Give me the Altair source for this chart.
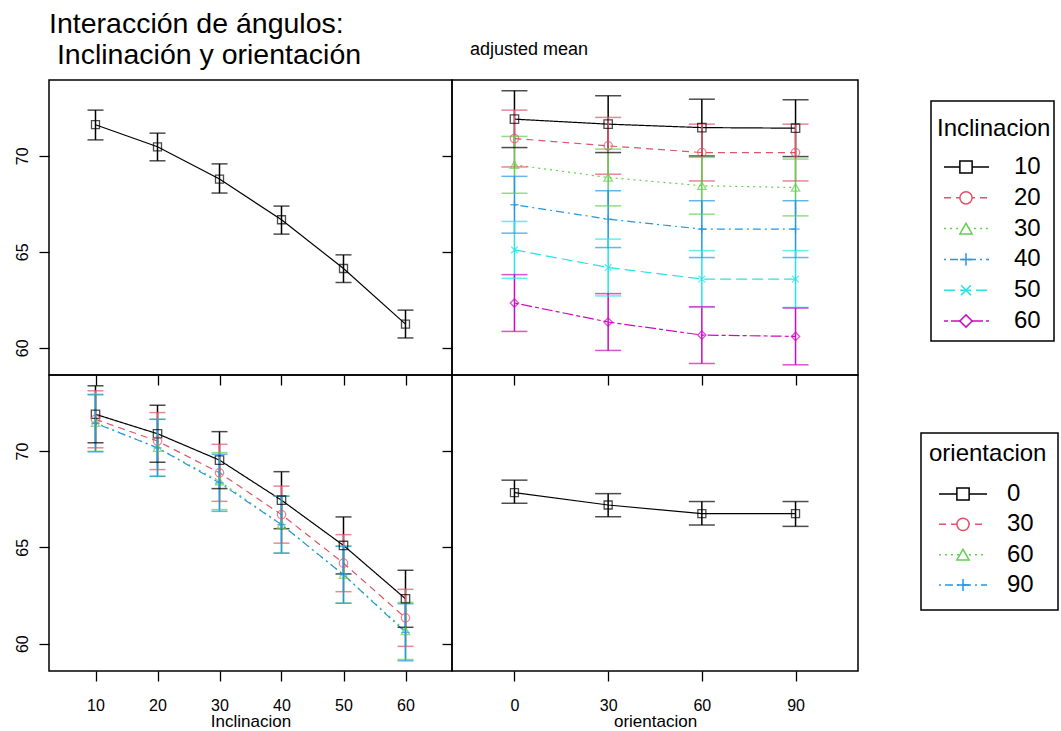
import altair as alt
import pandas as pd

FONT = "Liberation Sans"

# ---------------- data ----------------
incl_levels = [10, 20, 30, 40, 50, 60]
incl_labels = ["10", "20", "30", "40", "50", "60"]
orient_levels = [0, 30, 60, 90]
orient_labels = ["0", "30", "60", "90"]

# main effect of Inclinacion (mean and interval)
incl_mean = [71.62, 70.47, 68.79, 66.67, 64.13, 61.23]
incl_lo = [70.83, 69.74, 68.06, 65.92, 63.40, 60.51]
incl_hi = [72.38, 71.18, 69.58, 67.38, 64.84, 61.96]

# main effect of orientacion
orient_mean = [67.84, 67.20, 66.75, 66.75]
orient_lo = [67.29, 66.59, 66.16, 66.09]
orient_hi = [68.49, 67.79, 67.38, 67.38]

# cell means: one row per Inclinacion, columns = orientacion 0, 30, 60, 90
cell_10 = [71.91, 71.65, 71.47, 71.44]
cell_20 = [70.90, 70.52, 70.17, 70.17]
cell_30 = [69.53, 68.87, 68.44, 68.35]
cell_40 = [67.45, 66.70, 66.18, 66.18]
cell_50 = [65.10, 64.18, 63.58, 63.58]
cell_60 = [62.33, 61.34, 60.66, 60.59]
cell_rows = [cell_10, cell_20, cell_30, cell_40, cell_50, cell_60]
cell_ci = [1.48, 1.48, 1.48, 1.48, 1.48, 1.48]  # half-width of the cell intervals

y_ticks = [60, 65, 70]

# ---------------- styles ----------------
palette = ["#000000", "#DF536B", "#61D04F", "#2297E6", "#28E2E5", "#CD0BBC"]
dashes = [[1, 0], [7, 5], [2, 4], [2, 4, 8, 4], [11, 5], [4, 3, 11, 3]]
shapes = ["square", "circle", "triangle-up",
          "M-1,0L1,0M0,-1L0,1",
          "M-0.8,-0.8L0.8,0.8M-0.8,0.8L0.8,-0.8",
          "diamond"]

Y_DOMAIN = [58.58, 73.95]
XI_DOMAIN = [2.5, 67.5]
XO_DOMAIN = [-20, 110]

W_L, W_R, H_T, H_B, W_LEG = 403, 406, 295, 296, 202

incl_color = alt.Scale(domain=incl_labels, range=palette)
incl_dash = alt.Scale(domain=incl_labels, range=dashes)
incl_shape = alt.Scale(domain=incl_labels, range=shapes)
orient_color = alt.Scale(domain=orient_labels, range=palette[:4])
orient_dash = alt.Scale(domain=orient_labels, range=dashes[:4])
orient_shape = alt.Scale(domain=orient_labels, range=shapes[:4])

# ---------------- tables ----------------
df_incl = pd.DataFrame({"incl": incl_levels, "mean": incl_mean, "lo": incl_lo, "hi": incl_hi})
df_orient = pd.DataFrame({"orient": orient_levels, "mean": orient_mean, "lo": orient_lo, "hi": orient_hi})

rows = []
for i, lev in enumerate(incl_levels):
    for j, o in enumerate(orient_levels):
        m = cell_rows[i][j]
        rows.append({"incl": lev, "orient": o,
                     "Inclinacion": incl_labels[i], "orientacion": orient_labels[j],
                     "mean": m, "lo": m - cell_ci[i], "hi": m + cell_ci[i]})
df_cell = pd.DataFrame(rows)


def yscale():
    return alt.Scale(domain=Y_DOMAIN, nice=False, zero=False)


def y_axis(labels):
    if labels:
        return alt.Axis(values=y_ticks, title=None, labelAngle=270, labelAlign="center",
                        labelBaseline="alphabetic", labelPadding=12)
    return alt.Axis(values=y_ticks, title=None, labels=False)


def x_axis(values, labels, title):
    if labels:
        return alt.Axis(values=values, title=title, labelPadding=16, labelAngle=0,
                        titlePadding=0, titleFontSize=17, titleFontWeight="normal")
    return alt.Axis(values=values, title=None, labels=False)


# ---------------- main-effect panels ----------------
def main_panel(df, xfield, xdom, xvals, xlabels, xtitle, ylabels, capsize, width, height, title=None):
    xs = alt.Scale(domain=xdom, nice=False, zero=False)
    base = alt.Chart(df)
    X = alt.X(f"{xfield}:Q", scale=xs, axis=x_axis(xvals, xlabels, xtitle))
    Y = alt.Y("mean:Q", scale=yscale(), axis=y_axis(ylabels))
    line = base.mark_line(color="black", strokeWidth=1.2).encode(x=X, y=Y)
    bars = base.mark_rule(color="black", strokeWidth=1.5).encode(
        x=alt.X(f"{xfield}:Q", scale=xs), y=alt.Y("lo:Q", scale=yscale()), y2="hi:Q")
    cap_lo = base.mark_tick(color="black", orient="horizontal", size=capsize, thickness=1.5).encode(
        x=alt.X(f"{xfield}:Q", scale=xs), y=alt.Y("lo:Q", scale=yscale()))
    cap_hi = base.mark_tick(color="black", orient="horizontal", size=capsize, thickness=1.5).encode(
        x=alt.X(f"{xfield}:Q", scale=xs), y=alt.Y("hi:Q", scale=yscale()))
    pts = base.mark_point(color="black", shape="square", filled=False, size=64, strokeWidth=1.3).encode(
        x=alt.X(f"{xfield}:Q", scale=xs), y=alt.Y("mean:Q", scale=yscale()))
    ch = alt.layer(line, bars, cap_lo, cap_hi, pts).properties(width=width, height=height)
    if title is not None:
        ch = ch.properties(title=title)
    return ch


# ---------------- interaction panels ----------------
def inter_panel(xfield, xdom, xvals, xlabels, xtitle, ylabels, grp, cscale, dscale, sscale,
                capsize, width, height, title=None):
    xs = alt.Scale(domain=xdom, nice=False, zero=False)
    base = alt.Chart(df_cell)
    X = alt.X(f"{xfield}:Q", scale=xs, axis=x_axis(xvals, xlabels, xtitle))
    Y = alt.Y("mean:Q", scale=yscale(), axis=y_axis(ylabels))
    Xp = alt.X(f"{xfield}:Q", scale=xs)
    C = alt.Color(f"{grp}:N", scale=cscale, legend=None)
    line = base.mark_line(strokeWidth=1.2).encode(
        x=X, y=Y, color=C, strokeDash=alt.StrokeDash(f"{grp}:N", scale=dscale, legend=None),
        order=alt.Order(f"{xfield}:Q"))
    bars = base.mark_rule(strokeWidth=1.5).encode(
        x=Xp, y=alt.Y("lo:Q", scale=yscale()), y2="hi:Q", color=C)
    cap_lo = base.mark_tick(orient="horizontal", size=capsize, thickness=1.5).encode(
        x=Xp, y=alt.Y("lo:Q", scale=yscale()), color=C)
    cap_hi = base.mark_tick(orient="horizontal", size=capsize, thickness=1.5).encode(
        x=Xp, y=alt.Y("hi:Q", scale=yscale()), color=C)
    pts = base.mark_point(filled=False, size=70, strokeWidth=1.3).encode(
        x=Xp, y=alt.Y("mean:Q", scale=yscale()), color=C,
        shape=alt.Shape(f"{grp}:N", scale=sscale, legend=None))
    ch = alt.layer(line, bars, cap_lo, cap_hi, pts).properties(width=width, height=height)
    if title is not None:
        ch = ch.properties(title=title)
    return ch


# ---------------- legend panels ----------------
def legend_panel(field, title, labels, cscale, dscale, sscale, box, title_xy, y_range,
                 line_x, sym_x, text_x, height):
    one = alt.Chart(pd.DataFrame({"k": [0]}))
    df = pd.DataFrame({field: labels})
    yenc = alt.Y(f"{field}:N", sort=labels,
                 scale=alt.Scale(type="point", domain=labels, range=y_range, padding=0), axis=None)
    frame = one.mark_rect(fill="white", stroke="black", strokeWidth=1.5).encode(
        x=alt.value(box[0]), x2=alt.value(box[1]), y=alt.value(box[2]), y2=alt.value(box[3]))
    ttl = one.mark_text(text=title, align="left", baseline="alphabetic", fontSize=24,
                        font=FONT, color="black").encode(x=alt.value(title_xy[0]), y=alt.value(title_xy[1]))
    C = alt.Color(f"{field}:N", scale=cscale, legend=None)
    lines = alt.Chart(df).mark_rule(strokeWidth=1.5).encode(
        x=alt.value(line_x[0]), x2=alt.value(line_x[1]), y=yenc, color=C,
        strokeDash=alt.StrokeDash(f"{field}:N", scale=dscale, legend=None))
    pts = alt.Chart(df).mark_point(filled=False, size=150, strokeWidth=1.5, fill="white",
                                   fillOpacity=1).encode(
        x=alt.value(sym_x), y=yenc, color=C,
        shape=alt.Shape(f"{field}:N", scale=sscale, legend=None))
    txt = alt.Chart(df).mark_text(align="left", baseline="middle", fontSize=24, font=FONT,
                                  color="black").encode(x=alt.value(text_x), y=yenc, text=f"{field}:N")
    return alt.layer(frame, ttl, lines, pts, txt).properties(
        width=W_LEG, height=height, view=alt.ViewBackground(stroke="transparent"))


main_title = alt.TitleParams(
    text=["Interacción de ángulos:", "\u200b\u00a0Inclinación y orientación"],
    anchor="start", frame="group", fontSize=28.5, lineHeight=31, offset=11,
    fontWeight="normal", font=FONT, color="black")
adj_title = alt.TitleParams(text="adjusted mean", anchor="start", frame="group", dx=18,
                            fontSize=18, offset=21, fontWeight="normal", font=FONT, color="black")

tl = main_panel(df_incl, "incl", XI_DOMAIN, incl_levels, False, None, True, 16, W_L, H_T, main_title)
tr = inter_panel("orient", XO_DOMAIN, orient_levels, False, None, False, "Inclinacion",
                 incl_color, incl_dash, incl_shape, 26, W_R, H_T, adj_title)
bl = inter_panel("incl", XI_DOMAIN, incl_levels, True, "Inclinacion", True, "orientacion",
                 orient_color, orient_dash, orient_shape, 16, W_L, H_B)
br = main_panel(df_orient, "orient", XO_DOMAIN, orient_levels, True, "orientacion", False, 26, W_R, H_B)

leg_top = legend_panel("Inclinacion", "Inclinacion", incl_labels, incl_color, incl_dash, incl_shape,
                       box=(73, 196, 21, 261), title_xy=(79, 56), y_range=[87, 241],
                       line_x=(86, 131), sym_x=108, text_x=156, height=H_T)
leg_bot = legend_panel("orientacion", "orientacion", orient_labels, orient_color, orient_dash, orient_shape,
                       box=(63, 200, 58, 235), title_xy=(71, 86), y_range=[119, 210],
                       line_x=(81, 129), sym_x=105, text_x=149, height=H_B)

chart = alt.concat(tl, tr, leg_top, bl, br, leg_bot, columns=3, spacing=0,
                   bounds="flush", align="each").resolve_scale(
    color="independent", strokeDash="independent", shape="independent"
).properties(
    padding={"left": 13, "top": 8, "right": 0, "bottom": 0}
).configure(font=FONT).configure_view(
    stroke="black", strokeWidth=1.5
).configure_axis(
    grid=False, domain=False, tickSize=10, tickColor="black", tickWidth=1.3,
    labelFont=FONT, labelFontSize=16, labelColor="black",
    titleFont=FONT, titleColor="black"
).configure_title(font=FONT, color="black")

chart.save("out.html", embed_options={"renderer": "svg", "actions": False})
